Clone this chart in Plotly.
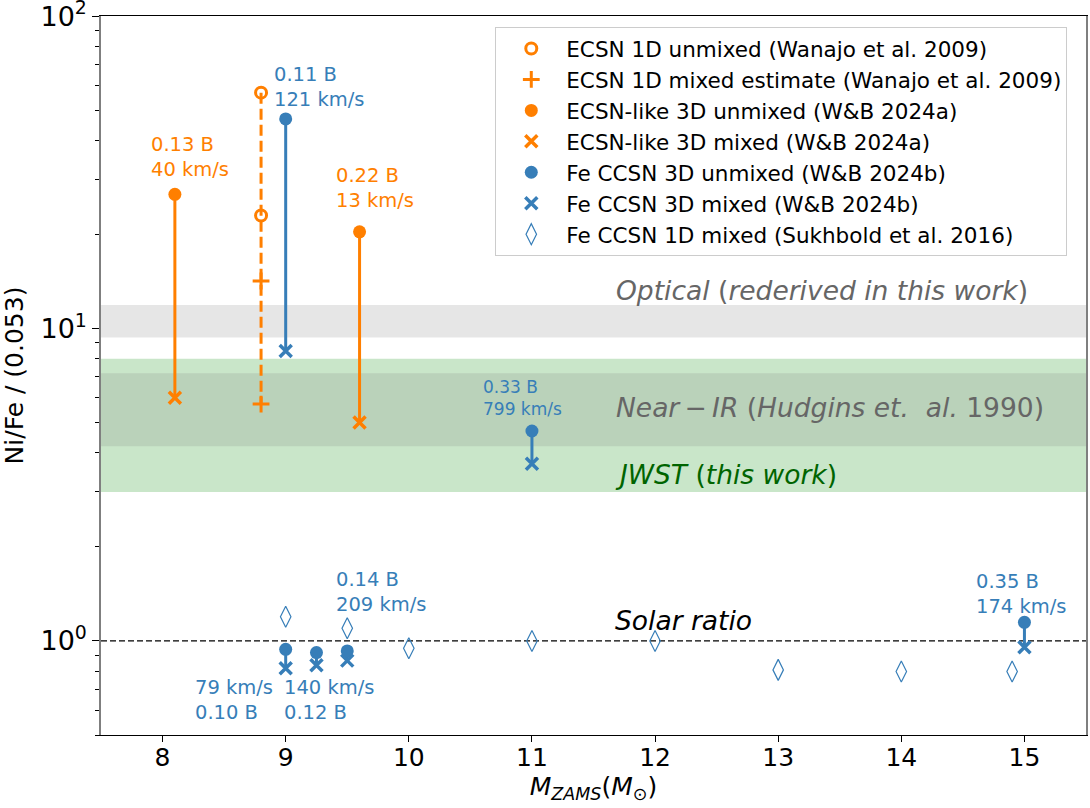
import math
import plotly.graph_objects as go

ORANGE = "#ff7f00"
BLUE = "#377eb8"

# ---- data ----
ecsn1d_x = [8.8, 8.8]
ecsn1d_unmixed = [56.9, 23.0]
ecsn1d_mixed = [14.2, 5.73]

ecsn3d_x = [8.1, 9.6]
ecsn3d_unmixed = [26.9, 20.4]
ecsn3d_mixed = [6.0, 5.0]

fe3d_x = [9.0, 11.0, 9.0, 9.25, 9.5, 15.0]
fe3d_unmixed = [46.9, 4.70, 0.94, 0.918, 0.929, 1.147]
fe3d_mixed = [8.47, 3.69, 0.818, 0.836, 0.865, 0.955]

sukh_x = [9.0, 9.5, 10.0, 11.0, 12.0, 13.0, 14.0, 14.9]
sukh_y = [1.196, 1.098, 0.947, 1.0, 1.0, 0.808, 0.798, 0.798]

optical_band = [9.37, 11.9]
nir_band = [4.2, 7.2]
jwst_band = [3.0, 8.0]
solar_ratio = 1.0

x_ticks = [8, 9, 10, 11, 12, 13, 14, 15]
y_ticks = [1, 10, 100]
y_ticktext = ["10<sup>0</sup>", "10<sup>1</sup>", "10<sup>2</sup>"]

legend_names = [
    "ECSN 1D unmixed (Wanajo et al. 2009)",
    "ECSN 1D mixed estimate (Wanajo et al. 2009)",
    "ECSN-like 3D unmixed (W&B 2024a)",
    "ECSN-like 3D mixed (W&B 2024a)",
    "Fe CCSN 3D unmixed (W&B 2024b)",
    "Fe CCSN 3D mixed (W&B 2024b)",
    "Fe CCSN 1D mixed (Sukhbold et al. 2016)",
]


def segs(xs, y0s, y1s):
    X, Y = [], []
    for x, a, b in zip(xs, y0s, y1s):
        X += [x, x, None]
        Y += [a, b, None]
    return X, Y


fig = go.Figure()

# connecting lines
X, Y = segs(ecsn1d_x[:1], [max(ecsn1d_unmixed)], [min(ecsn1d_mixed)])
fig.add_trace(go.Scatter(x=X, y=Y, mode="lines", showlegend=False,
                         line=dict(color=ORANGE, width=3, dash="11px,5px"), hoverinfo="skip"))
X, Y = segs(ecsn3d_x, ecsn3d_unmixed, ecsn3d_mixed)
fig.add_trace(go.Scatter(x=X, y=Y, mode="lines", showlegend=False,
                         line=dict(color=ORANGE, width=3), hoverinfo="skip"))
X, Y = segs(fe3d_x, fe3d_unmixed, fe3d_mixed)
fig.add_trace(go.Scatter(x=X, y=Y, mode="lines", showlegend=False,
                         line=dict(color=BLUE, width=3), hoverinfo="skip"))

# markers
fig.add_trace(go.Scatter(x=ecsn1d_x, y=ecsn1d_unmixed, mode="markers", name=legend_names[0],
                         marker=dict(symbol="circle-open", size=11, color=ORANGE, line=dict(width=3, color=ORANGE))))
fig.add_trace(go.Scatter(x=ecsn1d_x, y=ecsn1d_mixed, mode="markers", name=legend_names[1],
                         marker=dict(symbol="cross-thin", size=12, color=ORANGE, line=dict(width=3, color=ORANGE))))
fig.add_trace(go.Scatter(x=ecsn3d_x, y=ecsn3d_unmixed, mode="markers", name=legend_names[2],
                         marker=dict(symbol="circle", size=13, color=ORANGE)))
fig.add_trace(go.Scatter(x=ecsn3d_x, y=ecsn3d_mixed, mode="markers", name=legend_names[3],
                         marker=dict(symbol="x-thin", size=12, color=ORANGE, line=dict(width=3.5, color=ORANGE))))
fig.add_trace(go.Scatter(x=fe3d_x, y=fe3d_unmixed, mode="markers", name=legend_names[4],
                         marker=dict(symbol="circle", size=13, color=BLUE)))
fig.add_trace(go.Scatter(x=fe3d_x, y=fe3d_mixed, mode="markers", name=legend_names[5],
                         marker=dict(symbol="x-thin", size=12, color=BLUE, line=dict(width=3.5, color=BLUE))))
fig.add_trace(go.Scatter(x=sukh_x, y=sukh_y, mode="markers", name=legend_names[6],
                         marker=dict(symbol="diamond-tall-open", size=15, color=BLUE, line=dict(width=1.2, color=BLUE))))

# bands
fig.add_hrect(y0=jwst_band[0], y1=jwst_band[1], fillcolor="rgb(201,230,201)", line_width=0, layer="below")
fig.add_hrect(y0=nir_band[0], y1=nir_band[1], fillcolor="rgba(128,128,128,0.2)", line_width=0, layer="below")
fig.add_hrect(y0=optical_band[0], y1=optical_band[1], fillcolor="rgba(128,128,128,0.2)", line_width=0, layer="below")
fig.add_shape(type="line", xref="paper", x0=0, x1=1, yref="y", y0=solar_ratio, y1=solar_ratio,
              line=dict(color="black", width=1.3, dash="6px,3px"), layer="below")

# annotations
def ann(x, ly, text, color, size=19.5):
    fig.add_annotation(x=x, y=ly, xref="x", yref="y", text=text, showarrow=False,
                       xanchor="left", yanchor="middle", align="left",
                       font=dict(size=size, color=color))

ann(7.89, 1.550, "0.13 B<br>40 km/s", ORANGE)
ann(8.89, 1.774, "0.11 B<br>121 km/s", BLUE)
ann(9.39, 1.451, "0.22 B<br>13 km/s", ORANGE)
ann(10.59, 0.779, "0.33 B<br>799 km/s", BLUE, 17)
ann(9.39, 0.158, "0.14 B<br>209 km/s", BLUE)
ann(8.245, -0.189, "79 km/s<br>0.10 B", BLUE)
ann(8.97, -0.189, "140 km/s<br>0.12 B", BLUE)
ann(14.59, 0.150, "0.35 B<br>174 km/s", BLUE)

ann(11.67, 1.123, "<i>Optical</i> (<i>rederived in this work</i>)", "#666666", 26.5)
ann(11.67, 0.746, "<i>Near</i>\u2009\u2212\u2009<i>IR</i> (<i>Hudgins et.  al.</i> 1990)", "#666666", 26.5)
ann(11.655, 0.534, "<i>JWST</i> (<i>this work</i>)", "#006400", 26.5)
ann(11.66, 0.067, "<i>Solar ratio</i>", "black", 26.5)

fig.update_layout(
    width=1090, height=808,
    margin=dict(l=101, r=4, t=16, b=73),
    paper_bgcolor="white", plot_bgcolor="white",
    font=dict(family="DejaVu Sans", color="black"),
    showlegend=True,
    legend=dict(x=0.981, y=0.9847, xanchor="right", yanchor="top",
                bgcolor="white", bordercolor="#cccccc", borderwidth=1,
                font=dict(size=21.5), itemwidth=60),
)
fig.update_xaxes(range=[7.5, 15.5], tickvals=x_ticks, ticks="outside", ticklen=6, tickwidth=1.2,
                 tickcolor="black", showline=True, linecolor="black", linewidth=1.3, mirror=True,
                 showgrid=False, zeroline=False, tickfont=dict(size=25), automargin=False,
                 ticklabelstandoff=-6,
                 title=dict(text="<i>M</i><sub><i>ZAMS</i></sub>(<i>M</i><sub>\u2299</sub>)",
                            font=dict(size=25), standoff=0))
fig.update_yaxes(type="log", range=[math.log10(0.5), 2.0005], tickvals=y_ticks, ticktext=y_ticktext,
                 ticks="outside", ticklen=7, tickwidth=1.2, tickcolor="black",
                 showline=True, linecolor="#7f7f7f", linewidth=1.5, mirror=True,
                 showgrid=False, zeroline=False, tickfont=dict(size=27), automargin=False,
                 ticklabeloverflow="allow",
                 minor=dict(tickvals=[0.5, 0.6, 0.7, 0.8, 0.9, 2, 3, 4, 5, 6, 7, 8, 9,
                                      20, 30, 40, 50, 60, 70, 80, 90],
                            ticks="outside", ticklen=4, tickcolor="black", showgrid=False),
                 title=dict(text="Ni/Fe / (0.053)", font=dict(size=25), standoff=10))

fig.write_html("out.html", config={"displayModeBar": False},
               post_script="document.body.style.margin='0';document.body.style.overflow='hidden';")
